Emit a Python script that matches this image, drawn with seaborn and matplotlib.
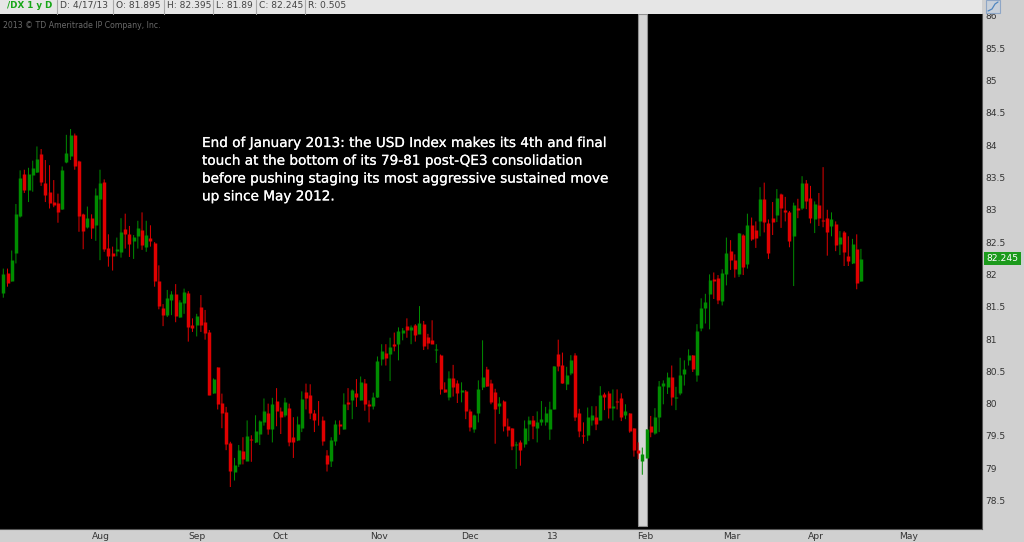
# dx_daily_chart.py
# /DX daily candles, Jul 2012 - Apr 2013, thinkorswim look
import pandas as pd
import matplotlib
matplotlib.use("Agg")
import matplotlib.pyplot as plt
import matplotlib.patheffects as pe
import seaborn as sns
from matplotlib.lines import Line2D
from matplotlib.patches import Rectangle

# ---------------------------
# Data
# ---------------------------
opens = [
    81.72, 82.02, 81.90, 82.33, 82.90, 83.56, 83.30, 83.54, 83.58, 83.86,
    83.41, 83.27, 83.12, 83.11, 83.01, 83.74, 83.83, 84.15, 83.75, 82.93,
    82.74, 82.87, 82.76, 83.17, 83.43, 82.41, 82.33, 82.36, 82.35, 82.70,
    82.63, 82.52, 82.59, 82.69, 82.43, 82.56, 82.48, 81.895, 81.48, 81.37,
    81.60, 81.70, 81.34, 81.55, 81.71, 81.21, 81.21, 81.49, 81.26, 81.115,
    80.17, 80.56, 80.01, 79.87, 79.39, 78.94, 79.07, 79.26, 79.12, 79.45,
    79.40, 79.53, 79.71, 79.86, 79.60, 80.04, 79.89, 79.83, 79.94, 79.48,
    79.44, 79.63, 80.18, 80.14, 79.85, 79.80, 79.74, 79.21, 79.11, 79.42,
    79.69, 79.60, 80.02, 80.05, 80.17, 80.05, 80.32, 80.00, 79.97, 80.10,
    80.69, 80.79, 80.77, 80.93, 80.93, 81.09, 81.20, 81.14, 81.21, 81.08,
    81.24, 81.03, 80.98, 80.83, 80.75, 80.23, 80.10, 80.39, 80.32, 80.18,
    80.20, 79.89, 79.60, 79.85, 80.25, 80.54, 80.32, 80.18, 79.97, 80.04,
    79.66, 79.62, 79.36, 79.41, 79.37, 79.68, 79.74, 79.62, 79.71, 79.72,
    79.60, 79.91, 80.77, 80.60, 80.30, 80.48, 80.75, 79.86, 79.52, 79.52,
    79.74, 79.80, 79.74, 80.15, 80.17, 79.93, 80.04, 80.08, 79.82, 79.85,
    79.62, 79.28, 79.12, 79.16, 79.65, 79.54, 79.79, 80.28, 80.26, 80.41,
    80.08, 80.17, 80.46, 80.68, 80.75, 80.45, 81.17, 81.48, 81.69, 81.93,
    81.94, 81.59, 82.00, 82.36, 82.22, 82.01, 82.61, 82.16, 82.76, 82.68,
    82.82, 83.17, 82.79, 82.87, 82.92, 83.24, 83.00, 82.96, 82.60, 83.03,
    83.02, 83.42, 83.18, 82.86, 83.07, 82.84, 82.88, 82.75, 82.78, 82.47,
    82.65, 82.29, 82.17, 82.39, 81.895,
]
highs = [
    82.09, 82.09, 82.37, 83.09, 83.61, 83.62, 83.65, 83.76, 83.98, 83.94,
    83.77, 83.69, 83.46, 83.25, 83.67, 84.16, 84.25, 84.18, 83.76, 82.94,
    83.05, 82.93, 83.33, 83.62, 83.47, 82.62, 82.43, 82.57, 82.87, 82.94,
    82.75, 82.61, 82.83, 82.96, 82.83, 82.76, 82.50, 82.14, 81.54, 81.76,
    81.74, 81.85, 81.60, 81.78, 81.74, 81.32, 81.39, 81.68, 81.45, 81.14,
    80.39, 80.56, 80.155, 79.95, 79.41, 79.16, 79.36, 79.48, 79.74, 79.51,
    79.82, 79.74, 80.08, 80.00, 80.09, 80.24, 79.94, 80.09, 80.00, 79.79,
    79.80, 80.19, 80.31, 80.30, 79.90, 80.04, 79.80, 79.28, 79.48, 79.74,
    79.74, 80.16, 80.24, 80.22, 80.38, 80.42, 80.38, 80.05, 80.17, 80.73,
    80.92, 80.92, 81.02, 81.10, 81.18, 81.17, 81.32, 81.21, 81.23, 81.51,
    81.28, 81.08, 81.29, 80.92, 80.76, 80.33, 80.50, 80.60, 80.36, 80.33,
    80.21, 79.91, 79.83, 80.36, 80.98, 80.57, 80.37, 80.23, 80.10, 80.05,
    79.77, 79.62, 79.41, 79.43, 79.74, 79.80, 79.81, 79.88, 80.04, 79.95,
    80.03, 80.58, 80.99, 80.79, 80.57, 80.75, 80.78, 79.92, 79.71, 79.94,
    79.96, 79.96, 80.27, 80.17, 80.19, 80.22, 80.22, 80.16, 79.99, 79.85,
    79.62, 79.40, 79.32, 79.60, 79.81, 79.93, 80.35, 80.36, 80.48, 80.59,
    80.26, 80.71, 80.67, 80.84, 80.75, 81.23, 81.63, 81.70, 82.00, 82.03,
    81.99, 82.08, 82.57, 82.53, 82.31, 82.64, 82.62, 82.94, 82.88, 82.82,
    83.35, 83.42, 82.85, 83.12, 83.32, 83.25, 83.20, 82.98, 83.11, 83.17,
    83.52, 83.46, 83.37, 83.13, 83.26, 83.66, 83.00, 82.96, 82.82, 82.67,
    82.67, 82.59, 82.55, 82.62, 82.395,
]
lows = [
    81.64, 81.81, 81.89, 82.17, 82.88, 83.26, 83.12, 83.28, 83.57, 83.37,
    83.12, 83.02, 83.04, 82.80, 83.00, 83.72, 83.77, 83.62, 82.66, 82.39,
    82.71, 82.55, 82.52, 82.22, 82.35, 82.12, 82.06, 82.28, 82.26, 82.40,
    82.27, 82.24, 82.40, 82.38, 82.35, 82.43, 81.81, 81.46, 81.20, 81.34,
    81.37, 81.26, 81.33, 81.39, 80.96, 81.11, 81.04, 81.11, 80.99, 80.13,
    80.155, 79.91, 79.62, 79.28, 78.71, 78.81, 79.02, 79.06, 79.11, 79.10,
    79.39, 79.36, 79.66, 79.52, 79.40, 79.65, 79.53, 79.79, 79.34, 79.16,
    79.42, 79.56, 79.91, 79.76, 79.56, 79.66, 79.35, 78.95, 79.02, 79.35,
    79.52, 79.60, 79.90, 79.76, 79.95, 80.05, 79.89, 79.71, 79.91, 80.09,
    80.59, 80.59, 80.35, 80.81, 80.67, 80.98, 81.02, 80.92, 80.96, 81.08,
    80.83, 80.84, 80.93, 80.63, 80.14, 80.17, 80.05, 80.11, 80.01, 80.02,
    79.76, 79.57, 79.55, 79.71, 80.21, 80.26, 79.99, 79.38, 79.84, 79.57,
    79.49, 79.28, 78.99, 79.04, 79.32, 79.42, 79.45, 79.40, 79.66, 79.66,
    79.44, 79.91, 80.50, 80.31, 80.21, 80.44, 79.73, 79.48, 79.38, 79.42,
    79.66, 79.59, 79.74, 79.90, 79.77, 79.74, 79.91, 79.73, 79.76, 79.55,
    79.18, 79.14, 78.90, 79.16, 79.48, 79.52, 79.56, 79.99, 80.15, 79.97,
    79.90, 80.13, 80.28, 80.59, 80.49, 80.34, 81.12, 81.24, 81.15, 81.62,
    81.54, 81.52, 81.83, 82.07, 81.95, 81.96, 81.99, 82.09, 82.52, 82.41,
    82.59, 82.65, 82.24, 82.61, 82.81, 82.72, 82.82, 82.42, 81.82, 82.87,
    83.00, 83.01, 82.79, 82.64, 82.75, 82.73, 82.29, 82.59, 82.36, 82.30,
    82.13, 82.13, 82.16, 81.77, 81.89,
]
closes = [
    82.01, 81.87, 82.23, 82.94, 83.49, 83.31, 83.55, 83.65, 83.78, 83.43,
    83.23, 83.11, 83.07, 82.97, 83.62, 83.88, 84.16, 83.68, 82.90, 82.67,
    82.87, 82.72, 83.23, 83.41, 82.39, 82.29, 82.28, 82.39, 82.65, 82.62,
    82.47, 82.58, 82.72, 82.45, 82.61, 82.52, 81.90, 81.51, 81.37, 81.64,
    81.70, 81.35, 81.575, 81.73, 81.18, 81.17, 81.36, 81.21, 81.09, 80.13,
    80.38, 80.00, 79.85, 79.375, 78.95, 79.05, 79.29, 79.15, 79.50, 79.43,
    79.58, 79.73, 79.89, 79.60, 80.00, 79.88, 79.80, 80.03, 79.41, 79.41,
    79.68, 80.07, 80.09, 79.85, 79.74, 79.79, 79.42, 79.07, 79.43, 79.69,
    79.66, 80.00, 79.99, 80.21, 80.10, 80.33, 80.00, 79.96, 80.10, 80.655,
    80.81, 80.70, 80.87, 80.89, 81.12, 81.14, 81.14, 81.18, 81.06, 81.25,
    80.89, 80.94, 80.93, 80.84, 80.22, 80.18, 80.39, 80.26, 80.17, 80.21,
    79.89, 79.64, 79.83, 80.22, 80.41, 80.28, 80.02, 79.91, 80.01, 79.66,
    79.59, 79.35, 79.38, 79.28, 79.63, 79.74, 79.66, 79.72, 79.77, 79.86,
    79.91, 80.58, 80.59, 80.32, 80.45, 80.67, 79.80, 79.58, 79.50, 79.79,
    79.83, 79.69, 80.14, 80.11, 79.93, 79.97, 80.02, 79.79, 79.88, 79.58,
    79.28, 79.23, 79.22, 79.60, 79.56, 79.79, 80.28, 80.32, 80.42, 80.10,
    80.11, 80.45, 80.54, 80.75, 80.53, 81.13, 81.48, 81.57, 81.92, 81.90,
    81.60, 82.02, 82.33, 82.22, 82.08, 82.64, 82.11, 82.76, 82.55, 82.56,
    83.17, 82.81, 82.33, 82.81, 83.19, 83.03, 82.97, 82.52, 83.07, 83.00,
    83.41, 83.13, 82.87, 83.09, 82.87, 82.82, 82.65, 82.86, 82.45, 82.58,
    82.35, 82.21, 82.47, 81.87, 82.245,
]

y_ticks = [78.5, 79, 79.5, 80, 80.5, 81, 81.5, 82, 82.5, 83, 83.5, 84, 84.5, 85, 85.5, 86]
y_labels = ["78.5", "79", "79.5", "80", "80.5", "81", "81.5", "82", "82.5", "83",
            "83.5", "84", "84.5", "85", "85.5", "86"]
month_pos = [23.2, 46, 66, 89.4, 111, 130.8, 152.6, 173.3, 193.3, 215.4]
month_labels = ["Aug", "Sep", "Oct", "Nov", "Dec", "13", "Feb", "Mar", "Apr", "May"]
header_labels = ["D: 4/17/13", "O: 81.895", "H: 82.395", "L: 81.89", "C: 82.245", "R: 0.505"]
last_close = 82.245
note_lines = [
    "End of January 2013: the USD Index makes its 4th and final",
    "touch at the bottom of its 79-81 post-QE3 consolidation",
    "before pushing staging its most aggressive sustained move",
    "up since May 2012.",
]

RED = "#e00000"
GREEN = "#008c00"
PANEL = "#d0d0d0"
W, H = 1024, 542

df = pd.DataFrame({"open": opens, "high": highs, "low": lows, "close": closes})
df["candle"] = df.index
df["direction"] = ["up" if c >= o else "down" for o, c in zip(opens, closes)]
wicks = df.melt(id_vars=["candle", "direction"], value_vars=["high", "low"], value_name="price")
bodies = df.melt(id_vars=["candle", "direction"], value_vars=["open", "close"], value_name="price")

# ---------------------------
# Figure
# ---------------------------
sns.set_style("dark", {"axes.facecolor": "black", "figure.facecolor": PANEL, "axes.grid": False})
plt.rcParams["font.family"] = ["DejaVu Sans"]

fig = plt.figure(figsize=(W / 100, H / 100), dpi=100)
ax = fig.add_axes([0, (H - 529) / H, 982 / W, (529 - 14) / H])

colors = {"up": GREEN, "down": RED}

# highlighted session band, sits behind the candles
ax.axvspan(150.95, 153.1, ymin=3.5 / 515, ymax=1, facecolor="#d4d4d4", edgecolor="#909090", lw=0.8, zorder=1)

# wicks are left unsnapped so some go dim between pixels, bodies stay crisp
sns.lineplot(data=wicks, x="candle", y="price", hue="direction", units="candle", estimator=None,
             palette=colors, linewidth=0.72, snap=False, solid_capstyle="butt",
             legend=False, ax=ax, zorder=2)
sns.lineplot(data=bodies, x="candle", y="price", hue="direction", units="candle", estimator=None,
             palette=colors, linewidth=2.5, solid_capstyle="butt",
             legend=False, ax=ax, zorder=3)

ax.set_xlim(-0.785, 232.8)
ax.set_ylim(78.06, 86.03)
ax.set_xlabel("")
ax.set_ylabel("")
ax.yaxis.tick_right()
ax.set_yticks(y_ticks)
ax.set_yticklabels(y_labels)
ax.set_xticks(month_pos)
ax.set_xticklabels(month_labels)
ax.tick_params(axis="y", length=0, pad=2.5, labelsize=6.6, labelcolor="#333333")
ax.tick_params(axis="x", length=0, pad=2.5, labelsize=6.6, labelcolor="#333333")
for side in ["top", "left"]:
    ax.spines[side].set_visible(False)
for side in ["right", "bottom"]:
    ax.spines[side].set_color("#555555")
    ax.spines[side].set_linewidth(0.8)

# copyright + annotation
fig.text(3 / W, 1 - 25 / H, "2013 © TD Ameritrade IP Company, Inc.", color="#6a6a6a",
         fontsize=5.6, va="center", ha="left")
for i, line in enumerate(note_lines):
    fig.text(202 / W, 1 - (143 + i * 17.8) / H, line, color="white", fontsize=9.8,
             va="center", ha="left",
             path_effects=[pe.withStroke(linewidth=0.15, foreground="white")])

# last price flag
ax.annotate(f"{last_close}", xy=(1, last_close), xycoords=("axes fraction", "data"),
            xytext=(3.2, 0), textcoords="offset points", color="white", fontsize=6.6,
            va="center", ha="left", annotation_clip=False,
            bbox=dict(boxstyle="square,pad=0.25", fc="#1c9a1c", ec="none"))

# ---------------------------
# Header strip
# ---------------------------
fig.add_artist(Rectangle((0, 1 - 14 / H), 982 / W, 14 / H, transform=fig.transFigure,
                         fc="#e6e6e6", ec="none"))
fig.text(7 / W, 1 - 5.5 / H, "/DX 1 y D", color="#17a617", fontsize=6.3, fontweight="bold",
         va="center", ha="left")
sep_px = [57, 113, 164, 213, 256, 305]
for px, label in zip(sep_px, header_labels):
    fig.add_artist(Line2D([px / W, px / W], [1 - 14 / H, 1], transform=fig.transFigure,
                          color="#a8a8a8", lw=0.8))
    fig.text((px + 3) / W, 1 - 5.5 / H, label, color="#444444", fontsize=6.6, va="center", ha="left")

# chart-style icon, top right
fig.add_artist(Rectangle((986 / W, 1 - 13 / H), 14 / W, 13 / H, transform=fig.transFigure,
                         fc="#c8d0da", ec="#8ea6c6", lw=0.8))
fig.add_artist(Line2D([988 / W, 992 / W, 995 / W, 998 / W], [1 - 11 / H, 1 - 9 / H, 1 - 4 / H, 1 - 2 / H],
                      transform=fig.transFigure, color="#4f86c0", lw=0.9))

fig.savefig("out.png", dpi=100)
